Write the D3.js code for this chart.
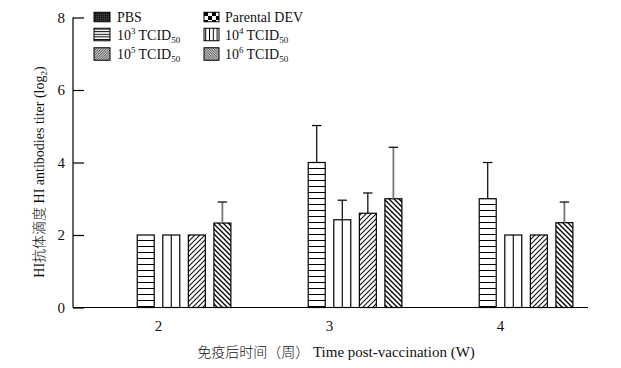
<!DOCTYPE html>
<html>
<head>
<meta charset="utf-8">
<script src="https://cdn.jsdelivr.net/npm/d3@7"></script>
<style>
  body { margin: 0; background: #fff; }
  svg { display: block; }
  text { font-family: "Liberation Serif", "Times New Roman", Times, "Noto Sans CJK SC", serif; fill: #111; }
  .cjk { font-family: "Noto Sans CJK SC", sans-serif; font-weight: 300; }
</style>
</head>
<body>
<svg id="chart" width="621" height="368"></svg>
<script>
// ---- data ----
const weeks = ["2", "3", "4"];
const series = ["PBS", "Parental DEV", "1e3", "1e4", "1e5", "1e6"];
const means = {
  "PBS":          [0, 0, 0],
  "Parental DEV": [0, 0, 0],
  "1e3":          [2.0, 4.0, 3.0],
  "1e4":          [2.0, 2.42, 2.0],
  "1e5":          [2.0, 2.6, 2.0],
  "1e6":          [2.33, 3.0, 2.34]
};
const errs = {
  "PBS":          [0, 0, 0],
  "Parental DEV": [0, 0, 0],
  "1e3":          [0, 1.02, 1.0],
  "1e4":          [0, 0.54, 0],
  "1e5":          [0, 0.56, 0],
  "1e6":          [0.58, 1.42, 0.57]
};
const yTicks = [0, 2, 4, 6, 8];
const legendItems = [
  { key: "PBS",          label: "PBS" },
  { key: "Parental DEV", label: "Parental DEV" },
  { key: "1e3",          label: "10", sup: "3" },
  { key: "1e4",          label: "10", sup: "4" },
  { key: "1e5",          label: "10", sup: "5" },
  { key: "1e6",          label: "10", sup: "6" }
];

// ---- layout ----
const svg = d3.select("#chart");
const mLeft = 73, mRight = 586, mTop = 17.5, mBottom = 307.5;

const x0 = d3.scaleBand().domain(weeks).range([mLeft, mRight]).paddingInner(0.053).paddingOuter(0.0265);
const x1 = d3.scaleBand().domain(series).range([0, x0.bandwidth()]).padding(0.336);
const y = d3.scaleLinear().domain([0, 8]).range([mBottom, mTop]);

// ---- patterns ----
const defs = svg.append("defs");
function pat(id, w, h, draw) {
  const p = defs.append("pattern").attr("id", id).attr("patternUnits", "userSpaceOnUse")
    .attr("width", w).attr("height", h);
  p.append("rect").attr("width", w).attr("height", h).attr("fill", "#fff");
  draw(p);
  return p;
}
// bar patterns
pat("p3", 10, 6, p => p.append("line").attr("x1", 0).attr("x2", 10).attr("y1", 0.5).attr("y2", 0.5).attr("stroke", "#000").attr("stroke-width", 1));
pat("p5", 5, 5, p => {
  p.append("path").attr("d", "M-1,1 l2,-2 M0,5 l5,-5 M4,6 l2,-2").attr("stroke", "#111").attr("stroke-width", 1.1);
});
pat("p6", 5, 5, p => {
  p.append("path").attr("d", "M-1,4 l2,2 M0,0 l5,5 M4,-1 l2,2").attr("stroke", "#000").attr("stroke-width", 1.3);
});
// legend patterns
pat("lPBS", 2, 2, p => {
  p.select("rect").attr("fill", "#000");
  p.append("rect").attr("x", 0.5).attr("y", 0.5).attr("width", 0.8).attr("height", 0.8).attr("fill", "#fff");
});
pat("lDEV", 8, 8, p => {
  p.select("rect").attr("fill", "#fff");
  p.append("rect").attr("x", 0).attr("y", 0).attr("width", 4).attr("height", 4).attr("fill", "#000");
  p.append("rect").attr("x", 4).attr("y", 4).attr("width", 4).attr("height", 4).attr("fill", "#000");
});
pat("l3", 10, 2.6, p => p.append("line").attr("x1", 0).attr("x2", 10).attr("y1", 0.5).attr("y2", 0.5).attr("stroke", "#000").attr("stroke-width", 1));
pat("l4", 3.8, 10, p => p.append("line").attr("x1", 0.5).attr("x2", 0.5).attr("y1", 0).attr("y2", 10).attr("stroke", "#000").attr("stroke-width", 1));
pat("l5", 2.5, 2.5, p => p.append("path").attr("d", "M-0.5,0.5 l1,-1 M0,2.5 l2.5,-2.5 M2,3 l1,-1").attr("stroke", "#333").attr("stroke-width", 0.9));
pat("l6", 2.5, 2.5, p => p.append("path").attr("d", "M-0.5,2 l1,1 M0,0 l2.5,2.5 M2,-0.5 l1,1").attr("stroke", "#333").attr("stroke-width", 0.9));

const barFill = { "PBS": "url(#lPBS)", "Parental DEV": "url(#lDEV)", "1e3": "url(#p3)", "1e4": "#fff", "1e5": "url(#p5)", "1e6": "url(#p6)" };
const legFill = { "PBS": "url(#lPBS)", "Parental DEV": "url(#lDEV)", "1e3": "url(#l3)", "1e4": "url(#l4)", "1e5": "url(#l5)", "1e6": "url(#l6)" };
const errColor = { "1e3": "#000", "1e4": "#000", "1e5": "#000", "1e6": "#777" };

// ---- bars ----
const flat = [];
weeks.forEach((w, i) => series.forEach(s => flat.push({ w, s, v: means[s][i], e: errs[s][i] })));
const shown = flat.filter(d => d.v > 0);

const g = svg.append("g");
g.selectAll("rect.bar").data(shown).join("rect")
  .attr("class", "bar")
  .attr("x", d => x0(d.w) + x1(d.s))
  .attr("y", d => y(d.v))
  .attr("width", x1.bandwidth())
  .attr("height", d => y(0) - y(d.v))
  .attr("fill", d => barFill[d.s])
  .attr("stroke", "#000")
  .attr("stroke-width", 1.2);

// middle line of vertical-line pattern bars
g.selectAll("line.mid").data(shown.filter(d => d.s === "1e4")).join("line")
  .attr("class", "mid")
  .attr("x1", d => x0(d.w) + x1(d.s) + x1.bandwidth() / 2)
  .attr("x2", d => x0(d.w) + x1(d.s) + x1.bandwidth() / 2)
  .attr("y1", d => y(d.v))
  .attr("y2", y(0))
  .attr("stroke", "#000").attr("stroke-width", 1.1);

// error bars (upper only)
const eb = shown.filter(d => d.e > 0);
g.selectAll("line.err").data(eb).join("line")
  .attr("class", "err")
  .attr("x1", d => x0(d.w) + x1(d.s) + x1.bandwidth() / 2)
  .attr("x2", d => x0(d.w) + x1(d.s) + x1.bandwidth() / 2)
  .attr("y1", d => y(d.v))
  .attr("y2", d => y(d.v + d.e))
  .attr("stroke", d => errColor[d.s]).attr("stroke-width", d => d.s === "1e6" ? 1.8 : 1.2);
g.selectAll("line.cap").data(eb).join("line")
  .attr("class", "cap")
  .attr("x1", d => x0(d.w) + x1(d.s) + x1.bandwidth() / 2 - 4.7)
  .attr("x2", d => x0(d.w) + x1(d.s) + x1.bandwidth() / 2 + 4.7)
  .attr("y1", d => y(d.v + d.e))
  .attr("y2", d => y(d.v + d.e))
  .attr("stroke", "#000").attr("stroke-width", 1.2);

// ---- axes ----
const yAxis = svg.append("g").attr("transform", `translate(${mLeft},0)`)
  .call(d3.axisLeft(y).tickValues(yTicks).tickSize(-11).tickPadding(8).tickFormat(d3.format("d")));
yAxis.select(".domain").attr("stroke", "#000").attr("stroke-width", 1.2).attr("d", `M0,${mBottom}V${mTop}`);
yAxis.selectAll(".tick line").attr("stroke", "#000").attr("stroke-width", 1.2);
yAxis.selectAll(".tick text").attr("font-size", 15).attr("fill", "#111");

const xAxis = svg.append("g").attr("transform", `translate(0,${mBottom})`)
  .call(d3.axisBottom(x0).tickSize(0).tickPadding(13));
xAxis.select(".domain").attr("stroke", "#000").attr("stroke-width", 1.2).attr("d", `M${mLeft},0H${mRight + 2}`);
xAxis.selectAll(".tick text").attr("font-size", 15).attr("fill", "#111");

// ---- axis titles ----
const xt = svg.append("text")
  .attr("x", 336).attr("y", 357)
  .attr("text-anchor", "middle").attr("font-size", 15);
xt.append("tspan").attr("class", "cjk").attr("font-size", 14).text("免疫后时间（周）");
xt.append("tspan").text(" Time post-vaccination (W)");

const yt = svg.append("text")
  .attr("transform", "translate(44,172) rotate(-90)")
  .attr("text-anchor", "middle").attr("font-size", 14);
yt.append("tspan").text("HI");
yt.append("tspan").attr("class", "cjk").text("抗体滴度");
yt.append("tspan").text(" HI antibodies titer (log");
yt.append("tspan").attr("font-size", 9).attr("dy", 3).text("2");
yt.append("tspan").attr("dy", -3).text(")");

// ---- legend ----
const colX = [94, 204];
const rowY = [17, 34.5, 54];
const swW = 16, swH = [9.5, 12.5, 12.5];
const leg = svg.append("g");
legendItems.forEach((it, i) => {
  const c = i % 2, r = Math.floor(i / 2);
  const gx = colX[c], gy = rowY[r];
  leg.append("rect")
    .attr("x", gx).attr("y", gy - swH[r] / 2)
    .attr("width", swW - c).attr("height", swH[r])
    .attr("fill", legFill[it.key]).attr("stroke", "#000").attr("stroke-width", 1);
  const t = leg.append("text").attr("x", gx + swW + 7 - c * 2).attr("y", gy + 5).attr("font-size", 14);
  t.append("tspan").text(it.label);
  if (it.sup) {
    t.append("tspan").attr("font-size", 9).attr("dy", -6).text(it.sup);
    t.append("tspan").attr("dy", 6).attr("dx", 3).text("TCID");
    t.append("tspan").attr("font-size", 9).attr("dy", 3).text("50");
  }
});
</script>
</body>
</html>
